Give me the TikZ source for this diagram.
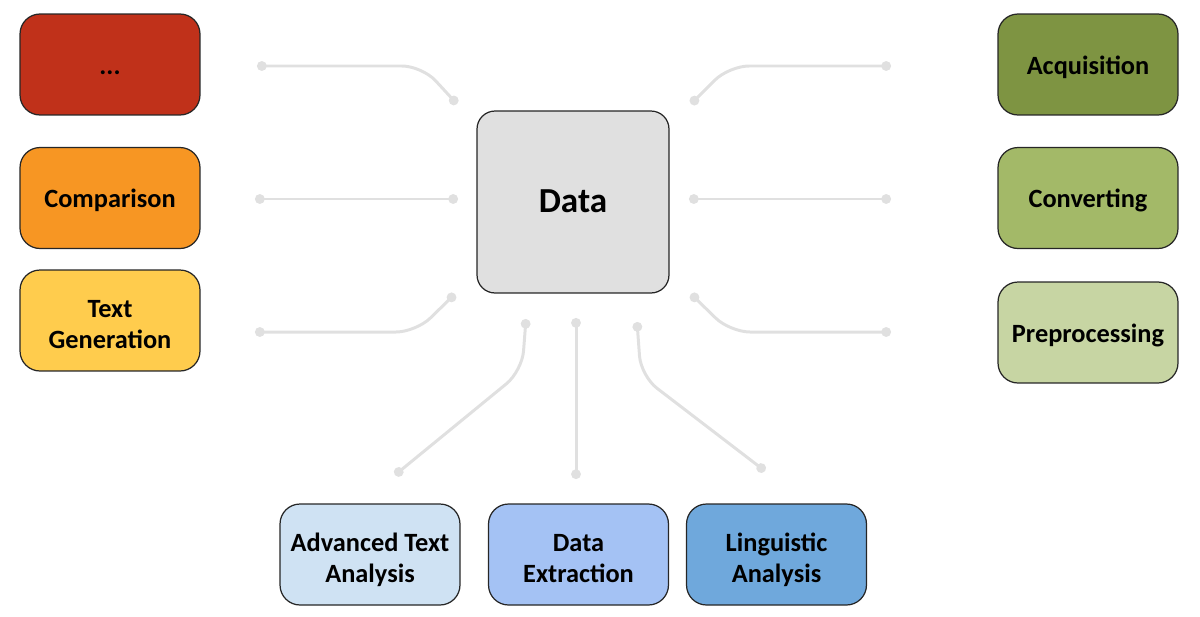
\documentclass[tikz,border=0pt]{standalone}
\usepackage{fontspec}
\setmainfont{Carlito}
\usetikzlibrary{arrows.meta,positioning}
\definecolor{moreColor}{RGB}{192,49,26}
\definecolor{comparisonColor}{RGB}{247,150,35}
\definecolor{generationColor}{RGB}{255,204,77}
\definecolor{acquisitionColor}{RGB}{126,148,66}
\definecolor{convertingColor}{RGB}{163,185,104}
\definecolor{preprocessingColor}{RGB}{199,213,163}
\definecolor{advancedColor}{RGB}{207,226,243}
\definecolor{extractionColor}{RGB}{164,194,244}
\definecolor{linguisticColor}{RGB}{111,168,220}
\definecolor{dataColor}{RGB}{224,224,224}
\definecolor{linkColor}{RGB}{224,224,224}
\newcommand{\topline}{\rule{0pt}{16.3pt}}
\tikzset{task/.style={draw=black!85, line width=.7pt, align=center, minimum width=3.6cm, minimum height=2.02cm, rounded corners=.4cm, font=\bfseries\fontsize{15}{17.6}\selectfont, execute at begin node={\rule{0pt}{13.5pt}}, execute at end node={\rule[-2.1pt]{0pt}{0pt}}}}
\tikzset{hub/.style={task, fill=dataColor, minimum width=3.84cm, minimum height=3.64cm, rounded corners=.36cm, font=\bfseries\fontsize{20}{24}\selectfont}}
\tikzset{link/.style={draw=linkColor, line width=1.7pt, rounded corners=.4cm, {Circle[length=5.5pt]}-{Circle[length=5.5pt]}}}

\begin{document}
\begin{tikzpicture}[x=0.02cm, y=-0.02cm]
	\useasboundingbox (0,0) rectangle (1200,616);
	% Nodes
		\node (data) [hub] at (573,202) {Data};
		
		\node (more) [task, fill=moreColor] at (110,64.5) {...};
		\node (comparison) [task, fill=comparisonColor] at (110,198) {Comparison};
		\node (generation) [task, fill=generationColor] at (110,320.5) {\topline Text\\ Generation};
		
		\node (acquisition) [task, fill=acquisitionColor] at (1088,64.5) {Acquisition};
		\node (converting) [task, fill=convertingColor] at (1088,198) {Converting};
		\node (preprocessing) [task, fill=preprocessingColor] at (1088,332.5) {Preprocessing};
		
		\node (advanced) [task, fill=advancedColor] at (370,554.5) {\topline Advanced Text\\ Analysis};
		\node (extraction) [task, fill=extractionColor] at (578.5,554.5) {\topline Data\\ Extraction};
		\node (linguistic) [task, fill=linguisticColor] at (776.5,554.5) {\topline Linguistic\\ Analysis};
		
		% Connector ends
		\coordinate (moreA) at (257,66);
		\coordinate (moreB) at (457,104);
		\coordinate (comparisonA) at (255,199);
		\coordinate (comparisonB) at (458,199);
		\coordinate (generationA) at (255,332);
		\coordinate (generationB) at (455,294);
		
		\coordinate (acquisitionA) at (691,104);
		\coordinate (acquisitionB) at (891,66);
		\coordinate (convertingA) at (689,199);
		\coordinate (convertingB) at (891,199);
		\coordinate (preprocessingA) at (691,294);
		\coordinate (preprocessingB) at (891,332);
		
		\coordinate (advancedA) at (526,319);
		\coordinate (advancedB) at (395,475);
		\coordinate (extractionA) at (576,318);
		\coordinate (extractionB) at (576,479);
		\coordinate (linguisticA) at (637,322);
		\coordinate (linguisticB) at (765,471);
		
		% Connectors
		\draw [link] (moreA) -- (422,66) -- (moreB);
		\draw [link] (comparisonA) -- (comparisonB);
		\draw [link] (generationA) -- (416,332) -- (generationB);
		
		\draw [link] (acquisitionA) -- (729,66) -- (acquisitionB);
		\draw [link] (convertingA) -- (convertingB);
		\draw [link] (preprocessingA) -- (730,332) -- (preprocessingB);
		
		\draw [link] (advancedA) -- (522,371) -- (advancedB);
		\draw [link] (extractionA) -- (extractionB);
		\draw [link] (linguisticA) -- (641,376) -- (linguisticB);

\end{tikzpicture}
\end{document}
